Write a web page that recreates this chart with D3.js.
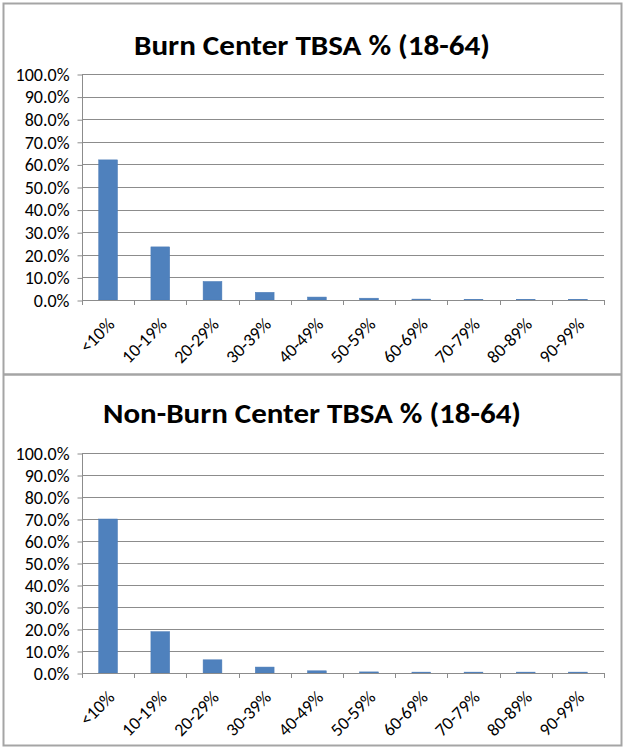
<!DOCTYPE html>
<html>
<head>
<meta charset="utf-8">
<script src="https://cdn.jsdelivr.net/npm/d3@7"></script>
<style>
  html, body { margin: 0; padding: 0; background: #fff; }
  svg text { font-family: Carlito, Calibri, "Open Sans", sans-serif; fill: #000; }
</style>
</head>
<body>
<svg id="chart" width="627" height="750"></svg>
<script>
// data
var categories = ['<10%', '10-19%', '20-29%', '30-39%', '40-49%', '50-59%', '60-69%', '70-79%', '80-89%', '90-99%'];
var burnCenter = [62.0, 23.5, 8.2, 3.4, 1.3, 0.8, 0.4, 0.3, 0.3, 0.3];
var nonBurnCenter = [70.0, 18.8, 6.0, 2.7, 1.0, 0.5, 0.4, 0.4, 0.4, 0.4];
var yTicks = [0, 10, 20, 30, 40, 50, 60, 70, 80, 90, 100];
var titles = ['Burn Center TBSA % (18-64)', 'Non-Burn Center TBSA % (18-64)'];

var svg = d3.select('#chart');
var barColor = '#4f81bd',
    gridColor = '#8c8c8c',
    frameColor = '#a5a5a5';

var panels = [
    {title: titles[0], values: burnCenter, titleY: 55, titleLen: 356, top: 74, bottom: 300},
    {title: titles[1], values: nonBurnCenter, titleY: 423, titleLen: 418, top: 453, bottom: 673}
];

var left = 82, right = 604;

// outer frame + divider
svg.append('rect').attr('x', 3.5).attr('y', 3.5).attr('width', 618).attr('height', 742)
    .attr('fill', 'none').attr('stroke', frameColor).attr('stroke-width', 2);
svg.append('line').attr('x1', 3).attr('x2', 622).attr('y1', 374.5).attr('y2', 374.5)
    .attr('stroke', frameColor).attr('stroke-width', 2.5);

panels.forEach(function (p) {
    var g = svg.append('g');
    var x = d3.scaleBand().domain(categories).range([left, right]).paddingInner(0.64).paddingOuter(0.32);
    var y = d3.scaleLinear().domain([0, 100]).range([p.bottom, p.top]);

    g.append('text')
        .attr('x', 312).attr('y', p.titleY)
        .attr('text-anchor', 'middle')
        .attr('textLength', p.titleLen).attr('lengthAdjust', 'spacingAndGlyphs')
        .style('font-size', '28px').style('font-weight', 'bold')
        .text(p.title);

    // gridlines
    g.selectAll('.grid').data(yTicks.slice(1)).enter().append('line')
        .attr('x1', left).attr('x2', right)
        .attr('y1', function (d) { return Math.round(y(d)) + 0.5; })
        .attr('y2', function (d) { return Math.round(y(d)) + 0.5; })
        .attr('stroke', gridColor).attr('stroke-width', 1);

    var yAxis = g.append('g').attr('transform', 'translate(' + (left + 0.5) + ',0.5)')
        .call(d3.axisLeft(y).tickValues(yTicks).tickSize(5).tickPadding(8)
            .tickFormat(function (d) { return d.toFixed(1) + '%'; }));
    yAxis.select('.domain').attr('stroke', gridColor).attr('d', 'M0,' + p.top + 'V' + p.bottom);
    yAxis.selectAll('.tick line').attr('stroke', gridColor);
    yAxis.selectAll('text').style('font-size', '18px');

    // bars
    g.selectAll('.bar').data(p.values).enter().append('rect')
        .attr('x', function (d, i) { return x(categories[i]); })
        .attr('width', x.bandwidth())
        .attr('y', function (d) { return y(d); })
        .attr('height', function (d) { return p.bottom - y(d); })
        .attr('fill', barColor)
        .attr('stroke', '#4a7ab5').attr('stroke-width', 0.5);

    // x axis line with ticks between categories
    var xg = g.append('g');
    xg.append('line').attr('x1', left).attr('x2', right + 1)
        .attr('y1', p.bottom + 0.5).attr('y2', p.bottom + 0.5)
        .attr('stroke', gridColor);
    xg.selectAll('.xtick').data(d3.range(categories.length + 1)).enter().append('line')
        .attr('x1', function (i) { return Math.round(left + i * (right - left) / categories.length) + 0.5; })
        .attr('x2', function (i) { return Math.round(left + i * (right - left) / categories.length) + 0.5; })
        .attr('y1', p.bottom).attr('y2', p.bottom + 5)
        .attr('stroke', gridColor);

    xg.selectAll('.xlab').data(categories).enter().append('text')
        .attr('transform', function (d) {
            var cx = x(d) + x.bandwidth() / 2;
            return 'translate(' + (cx + 3) + ',' + (p.bottom + 21) + ') rotate(-45)';
        })
        .attr('text-anchor', 'end')
        .attr('dy', '0.35em')
        .style('font-size', '18px')
        .text(function (d) { return d; });
});
</script>
</body>
</html>
